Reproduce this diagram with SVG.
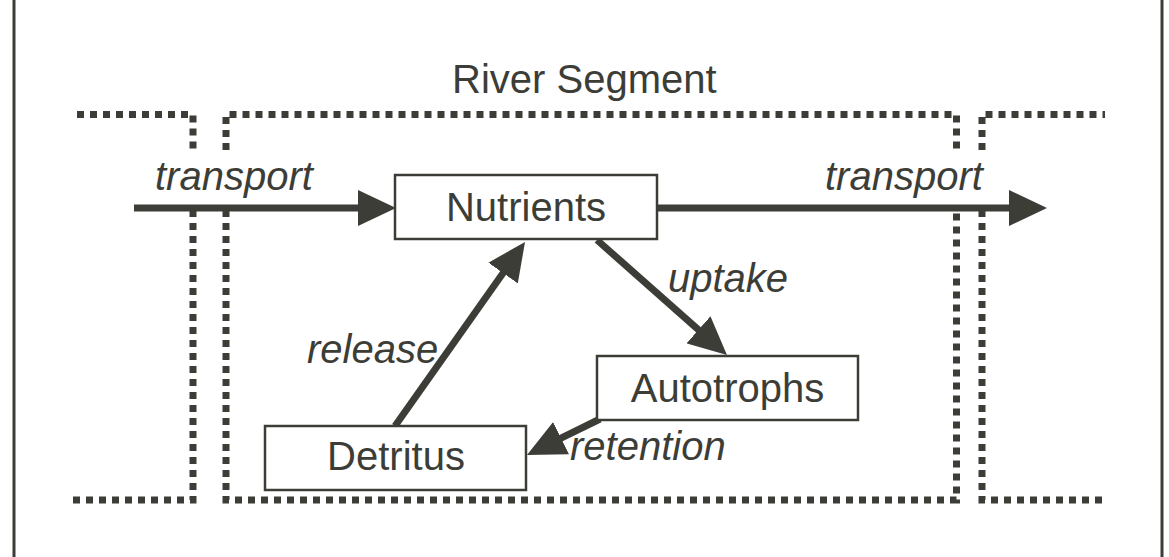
<svg xmlns="http://www.w3.org/2000/svg" width="1169" height="557" viewBox="0 0 1169 557">
<style>
.bg{fill:#ffffff}
.frame{stroke:#3d3d38;stroke-width:3;fill:none}
.dots{stroke:#3d3d38;stroke-width:7;stroke-dasharray:7 6;fill:none}
.box{fill:#ffffff;stroke:#3d3d38;stroke-width:2.5}
.lbl{font-family:"Liberation Sans",Arial,sans-serif;font-size:40px;fill:#3d3d38}
.it{font-style:italic}
.arr{stroke:#3d3d38;stroke-width:7;fill:none;marker-end:url(#ah)}
</style>
<defs>
<marker id="ah" viewBox="0 0 38 36" refX="8" refY="18" markerWidth="38" markerHeight="36" markerUnits="userSpaceOnUse" orient="auto">
<path d="M0,0 L38,18 L0,36 Z" fill="#3d3d38"/>
</marker>
</defs>
<rect class="bg" x="0" y="0" width="1169" height="557"/>
<g id="frame">
<line class="frame" x1="14" y1="0" x2="14" y2="557"/>
<line class="frame" x1="1162" y1="0" x2="1162" y2="557"/>
</g>
<g id="river-segment">
<path class="dots" d="M77,114.5 H193 V150"/>
<path class="dots" d="M193,210 V500 H73"/>
<path class="dots" d="M226,150 V114.5 H956.5 V150"/>
<path class="dots" d="M226,210 V500 H956.5 V210"/>
<path class="dots" d="M982,150 V114.5 H1105"/>
<path class="dots" d="M982,210 V500 H1107"/>
<text class="lbl" x="452" y="93">River Segment</text>
</g>
<g id="connectors">
<line class="arr" x1="134" y1="208" x2="366" y2="208"/>
<line class="arr" x1="657" y1="208" x2="1017" y2="208"/>
<line class="arr" x1="597" y1="240" x2="704.5" y2="335.1"/>
<line class="arr" x1="395" y1="426" x2="507.7" y2="266.5"/>
<line class="arr" x1="600" y1="419" x2="553.9" y2="441.7"/>
<text class="lbl it" x="155" y="190">transport</text>
<text class="lbl it" x="825" y="190">transport</text>
<text class="lbl it" x="668" y="292">uptake</text>
<text class="lbl it" x="307" y="363">release</text>
<text class="lbl it" x="570" y="460">retention</text>
</g>
<g id="nutrients">
<rect class="box" x="395" y="175" width="262" height="64"/>
<text class="lbl" x="526" y="221" text-anchor="middle">Nutrients</text>
</g>
<g id="autotrophs">
<rect class="box" x="597" y="356" width="261" height="64"/>
<text class="lbl" x="727.5" y="402" text-anchor="middle">Autotrophs</text>
</g>
<g id="detritus">
<rect class="box" x="265" y="426" width="261" height="64"/>
<text class="lbl" x="396" y="470" text-anchor="middle">Detritus</text>
</g>
</svg>
